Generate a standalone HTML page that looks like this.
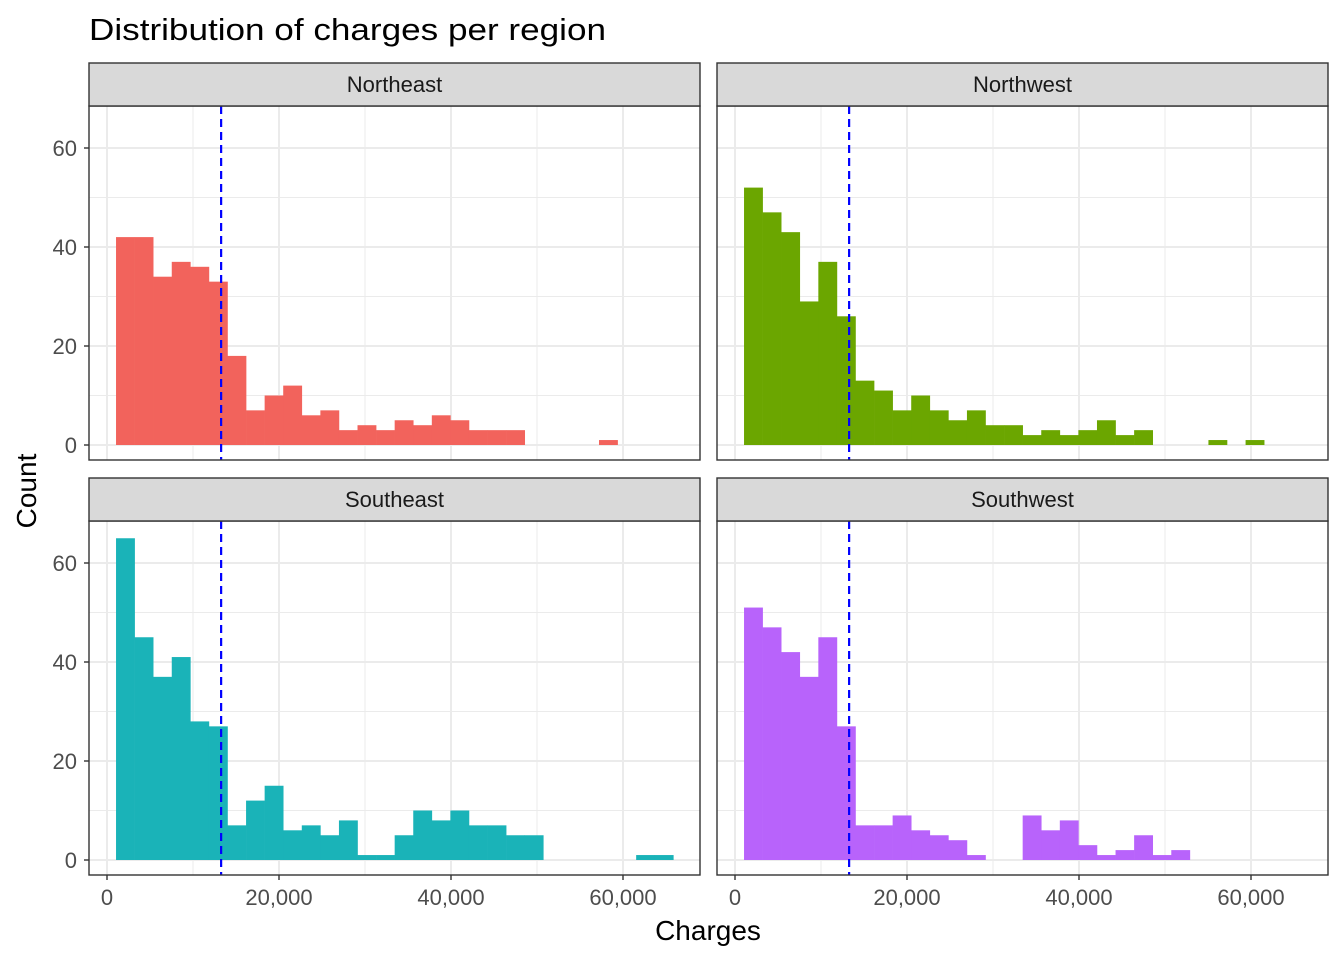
<!DOCTYPE html>
<html><head><meta charset="utf-8"><style>
body{margin:0;background:#fff;font-family:"Liberation Sans",Arial,sans-serif}
</style></head><body>
<svg id="chart" width="1344" height="960" xmlns="http://www.w3.org/2000/svg" font-family="Liberation Sans, Arial, sans-serif">
<text x="89" y="40" font-size="31" textLength="517" lengthAdjust="spacingAndGlyphs" fill="#000">Distribution of charges per region</text>
<text x="708" y="940" font-size="28" text-anchor="middle" fill="#000">Charges</text>
<text x="0" y="0" font-size="28" text-anchor="middle" transform="translate(36,491) rotate(-90)" fill="#000">Count</text>
</svg>
<script>
const regions = ["Northeast","Northwest","Southeast","Southwest"];
const colors = ["#F2635C","#6BA600","#1AB3B8","#B863FB"];
const binStart = 1050;
const binWidth = 2160;
const countsNE = [42,42,34,37,36,33,18,7,10,12,6,7,3,4,3,5,4,6,5,3,3,3,0,0,0,0,1,0,0,0];
const countsNW = [52,47,43,29,37,26,13,11,7,10,7,5,7,4,4,2,3,2,3,5,2,3,0,0,0,1,0,1,0,0];
const countsSE = [65,45,37,41,28,27,7,12,15,6,7,5,8,1,1,5,10,8,10,7,7,5,5,0,0,0,0,0,1,1];
const countsSW = [51,47,42,37,45,27,7,7,9,6,5,4,1,0,0,9,6,8,3,1,2,5,1,2,0,0,0,0,0,0];
const meanCharge = 13270;
const xTicks = [0,20000,40000,60000];
const xTickLabels = ["0","20,000","40,000","60,000"];
const yTicks = [0,20,40,60];

const allCounts = [countsNE,countsNW,countsSE,countsSW];
const svg = document.getElementById('chart');
const NS = "http://www.w3.org/2000/svg";
function mk(tag, attrs, parent){const e=document.createElementNS(NS,tag);for(const k in attrs)e.setAttribute(k,attrs[k]);(parent||svg).appendChild(e);return e;}

const panels = [
 {x0:89,x1:700,y0:106,y1:460,sy:63},
 {x0:717,x1:1328,y0:106,y1:460,sy:63},
 {x0:89,x1:700,y0:521,y1:875,sy:478},
 {x0:717,x1:1328,y0:521,y1:875,sy:478}
];
panels.forEach((p,i)=>{
  const g = mk('g',{});
  
  
  const xs = v => p.x0 + 18 + v*0.0086;
  const zeroY = p.y1 - 15;
  const ys = c => zeroY - c*4.95;
  [10000,30000,50000].forEach(v=>mk('line',{x1:xs(v),x2:xs(v),y1:p.y0,y2:p.y1,stroke:'#ebebeb','stroke-width':1},g));
  [10,30,50].forEach(v=>mk('line',{x1:p.x0,x2:p.x1,y1:ys(v),y2:ys(v),stroke:'#ebebeb','stroke-width':1},g));
  xTicks.forEach(v=>mk('line',{x1:xs(v),x2:xs(v),y1:p.y0,y2:p.y1,stroke:'#ebebeb','stroke-width':2},g));
  yTicks.forEach(v=>mk('line',{x1:p.x0,x2:p.x1,y1:ys(v),y2:ys(v),stroke:'#ebebeb','stroke-width':2},g));
  allCounts[i].forEach((c,b)=>{
    if(c<=0) return;
    const l = xs(binStart+b*binWidth), r = xs(binStart+(b+1)*binWidth);
    const rect = mk('rect',{x:l,y:ys(c),width:r-l+0.3,height:zeroY-ys(c),fill:colors[i]},g);
    
    
  });
  const ml = mk('line',{x1:xs(meanCharge),x2:xs(meanCharge),y1:p.y0,y2:p.y1,stroke:'#0000ff','stroke-width':2.2,'stroke-dasharray':'8,5'},g);
  
  
  mk('rect',{x:p.x0,y:p.y0,width:p.x1-p.x0,height:p.y1-p.y0,fill:'none',stroke:'#333','stroke-width':1.4},g);
  const s = mk('rect',{x:p.x0,y:p.sy,width:p.x1-p.x0,height:p.y0-p.sy,fill:'#d9d9d9',stroke:'#333','stroke-width':1.4},g);
  
  
  const st = mk('text',{x:(p.x0+p.x1)/2,y:p.sy+29,'font-size':22,'text-anchor':'middle',fill:'#1a1a1a'},g);
  st.textContent = regions[i];
  
  
  if(i%2===0){
    yTicks.forEach(v=>{
      mk('line',{x1:p.x0-5,x2:p.x0,y1:ys(v),y2:ys(v),stroke:'#333','stroke-width':1.4},g);
      const t = mk('text',{x:p.x0-12,y:ys(v)+8,'font-size':22,'text-anchor':'end',fill:'#4d4d4d'},g);
      t.textContent = v;
      
      
    });
  }
  if(i>=2){
    xTicks.forEach((v,k)=>{
      mk('line',{x1:xs(v),x2:xs(v),y1:p.y1,y2:p.y1+5,stroke:'#333','stroke-width':1.4},g);
      const t = mk('text',{x:xs(v),y:p.y1+30,'font-size':22,'text-anchor':'middle',fill:'#4d4d4d'},g);
      t.textContent = xTickLabels[k];
      
      
    });
  }
});
</script>
</body></html>
